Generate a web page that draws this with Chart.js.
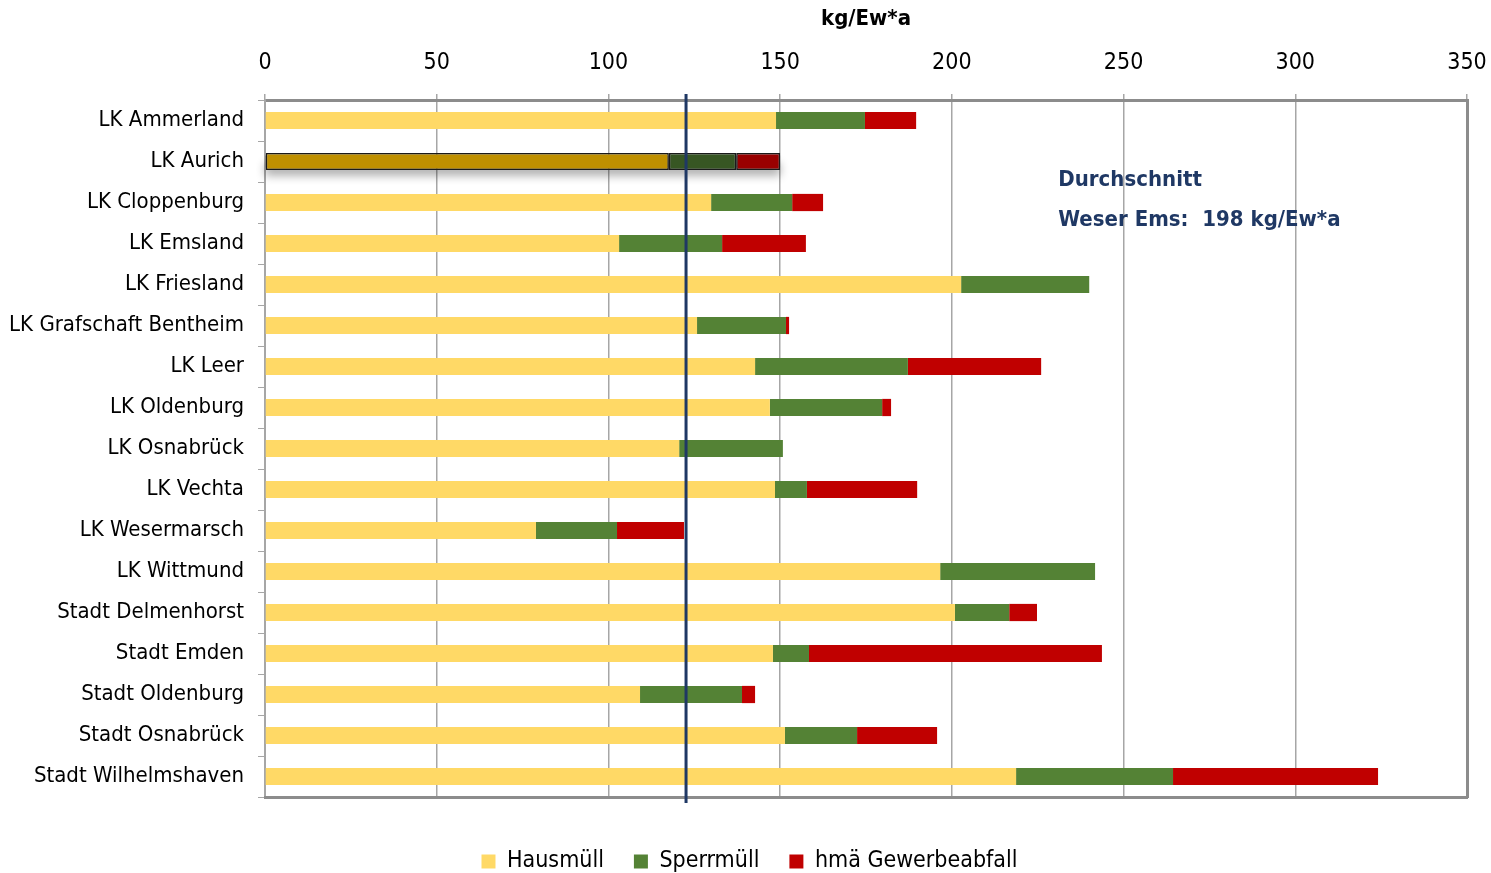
<!DOCTYPE html>
<html>
<head>
<meta charset="utf-8">
<script src="https://cdn.jsdelivr.net/npm/chart.js@4.4.1/dist/chart.umd.min.js"></script>
<style>
  html, body { margin: 0; padding: 0; background: #fff; }
  #wrap { width: 1491px; height: 873px; position: relative; }
</style>
</head>
<body>
<div id="wrap"><canvas id="chart"></canvas></div>
<script>
// --- DATA ---
const categories = [
  'LK Ammerland', 'LK Aurich', 'LK Cloppenburg', 'LK Emsland', 'LK Friesland',
  'LK Grafschaft Bentheim', 'LK Leer', 'LK Oldenburg', 'LK Osnabrück', 'LK Vechta',
  'LK Wesermarsch', 'LK Wittmund', 'Stadt Delmenhorst', 'Stadt Emden',
  'Stadt Oldenburg', 'Stadt Osnabrück', 'Stadt Wilhelmshaven'
];
const hausmuell = [148.8, 117.6, 129.9, 103.1, 202.7, 125.8, 142.7, 147.0, 120.6, 148.5, 78.9, 196.6, 200.9, 147.9, 109.2, 151.4, 218.7];
const sperrmuell = [25.9, 19.6, 23.6, 30.0, 37.3, 25.9, 44.5, 32.7, 30.2, 9.3, 23.6, 45.1, 15.8, 10.5, 29.7, 21.0, 45.7];
const gewerbe = [14.9, 12.8, 9.0, 24.4, 0, 0.9, 38.8, 2.6, 0, 32.1, 19.5, 0, 8.1, 85.3, 3.8, 23.3, 59.7];
const xTicks = [0, 50, 100, 150, 200, 250, 300, 350];
const avgLine = 122.6;
const highlightIndex = 1; // LK Aurich
const noteLines = ['Durchschnitt', 'Weser Ems:  198 kg/Ew*a'];

const FONT = '"DejaVu Sans Condensed", "Liberation Sans Narrow", sans-serif';

function colorsFor(normal, dark) {
    return categories.map((c, i) => i === highlightIndex ? dark : normal);
}
const borderColors = categories.map((c, i) => i === highlightIndex ? '#1a1a1a' : 'rgba(0,0,0,0)');
const borderWidths = categories.map((c, i) => i === highlightIndex ? 1.5 : 0);

// Shadow under highlighted bar + average line + note
const extras = {
    id: 'extras',
    afterInit(chart) {
        // keep the legend box short so it sits low under the plot
        const legend = chart.legend;
        if (legend) {
            const origFit = legend.fit;
            legend.fit = function () {
                origFit.call(this);
                this.height = 53;
            };
        }
    },
    beforeDatasetsDraw(chart) {
        const { ctx, scales } = chart;
        const y = scales.y.getPixelForValue(highlightIndex);
        const x0 = scales.x.getPixelForValue(0);
        const total = hausmuell[highlightIndex] + sperrmuell[highlightIndex] + gewerbe[highlightIndex];
        const x1 = scales.x.getPixelForValue(total);
        ctx.save();
        ctx.shadowColor = 'rgba(0,0,0,0.55)';
        ctx.shadowBlur = 10;
        ctx.shadowOffsetY = 8;
        ctx.fillStyle = 'rgba(120,120,120,0.6)';
        ctx.fillRect(x0, y - 6, x1 - x0, 12);
        ctx.restore();
    },
    afterDatasetsDraw(chart) {
        const { ctx, scales, chartArea } = chart;
        const x = scales.x.getPixelForValue(avgLine);
        ctx.save();
        ctx.strokeStyle = '#1F3864';
        ctx.lineWidth = 3;
        ctx.beginPath();
        ctx.moveTo(x, chartArea.top - 6);
        ctx.lineTo(x, chartArea.bottom + 6);
        ctx.stroke();

        ctx.fillStyle = '#1F3864';
        ctx.font = 'bold 22px ' + FONT;
        ctx.textBaseline = 'middle';
        ctx.textAlign = 'left';
        const tx = scales.x.getPixelForValue(231);
        ctx.fillText(noteLines[0], tx, scales.y.getPixelForValue(1.45));
        ctx.fillText(noteLines[1], tx, scales.y.getPixelForValue(2.43));
        ctx.restore();
    }
};

new Chart(document.getElementById('chart'), {
    type: 'bar',
    data: {
        labels: categories,
        datasets: [
            {
                label: 'Hausmüll',
                data: hausmuell,
                backgroundColor: colorsFor('#FFD966', '#BF9000'),
                borderColor: borderColors,
                borderWidth: borderWidths,
                borderSkipped: false
            },
            {
                label: 'Sperrmüll',
                data: sperrmuell,
                backgroundColor: colorsFor('#548235', '#375623'),
                borderColor: borderColors,
                borderWidth: borderWidths,
                borderSkipped: false
            },
            {
                label: 'hmä Gewerbeabfall',
                data: gewerbe,
                backgroundColor: colorsFor('#C00000', '#990000'),
                borderColor: borderColors,
                borderWidth: borderWidths,
                borderSkipped: false
            }
        ]
    },
    options: {
        indexAxis: 'y',
        responsive: true,
        maintainAspectRatio: false,
        animation: false,
        devicePixelRatio: 1,
        layout: { padding: { left: 8, right: 0, top: 6, bottom: 0 } },
        datasets: { bar: { barPercentage: 0.42, categoryPercentage: 1.0 } },
        scales: {
            x: {
                position: 'top',
                stacked: true,
                min: 0,
                max: 350,
                afterBuildTicks(axis) {
                    axis.ticks = xTicks.map(v => ({ value: v }));
                },
                afterFit(axis) { axis.paddingRight = 24; },
                title: {
                    display: true,
                    text: 'kg/Ew*a',
                    color: '#000',
                    font: { family: FONT, size: 22, weight: 'bold' },
                    padding: { top: 0, bottom: 0 }
                },
                ticks: {
                    color: '#000',
                    font: { family: FONT, size: 23 },
                    padding: 17
                },
                grid: { color: '#A6A6A6', lineWidth: 1.5, tickLength: 6 },
                border: { color: '#8C8C8C', width: 3 }
            },
            y: {
                stacked: true,
                afterFit(axis) { axis.width = 257; },
                ticks: {
                    color: '#000',
                    font: { family: FONT, size: 22 },
                    padding: 14
                },
                grid: { drawOnChartArea: false, offset: true, color: '#A6A6A6', tickLength: 7 },
                border: { color: '#A6A6A6', width: 2 }
            },
            x2: {
                position: 'bottom',
                min: 0, max: 350,
                afterFit(axis) { axis.height = 23; axis.paddingRight = 24; },
                ticks: { display: false },
                grid: { display: false },
                border: { color: '#8C8C8C', width: 3 }
            },
            y2: {
                position: 'right',
                afterFit(axis) { axis.width = 0; },
                ticks: { display: false },
                grid: { display: false },
                border: { color: '#8C8C8C', width: 3 }
            }
        },
        plugins: {
            legend: {
                position: 'bottom',
                labels: {
                    color: '#000',
                    font: { family: FONT, size: 23 },
                    boxWidth: 14,
                    boxHeight: 14,
                    padding: 30,
                    generateLabels(chart) {
                        return chart.data.datasets.map((ds, i) => ({
                            text: ds.label,
                            fillStyle: ds.backgroundColor[0],
                            strokeStyle: ds.backgroundColor[0],
                            lineWidth: 0,
                            datasetIndex: i
                        }));
                    }
                }
            },
            tooltip: { enabled: false }
        }
    },
    plugins: [extras]
});
</script>
</body>
</html>
